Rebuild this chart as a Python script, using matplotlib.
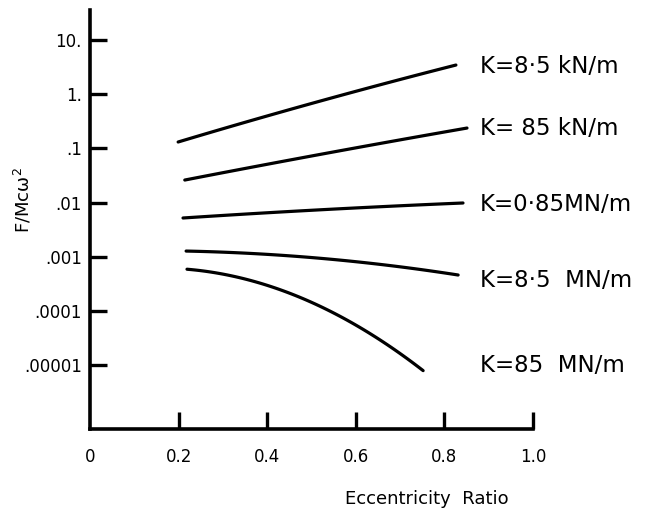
import numpy as np
import matplotlib
matplotlib.use('Agg')
import matplotlib.pyplot as plt
from matplotlib.ticker import FixedLocator, NullLocator

plt.rcParams['font.family'] = ['DejaVu Sans']

# curves: eccentricity ratio vs F/Mcw^2
ecc_1 = [0.199, 0.512, 0.826]
f_1 = [0.131, 0.717, 3.45]
ecc_2 = [0.214, 0.512, 0.851]
f_2 = [0.026, 0.0753, 0.237]
ecc_3 = [0.21, 0.512, 0.842]
f_3 = [0.00518, 0.00728, 0.0098]
ecc_4 = [0.217, 0.512, 0.831]
f_4 = [0.00127, 0.000946, 0.000459]
ecc_5 = [0.219, 0.361, 0.474, 0.571, 0.661, 0.752]
f_5 = [0.000618, 0.000327, 0.00018, 7.7e-5, 2.9e-5, 7.4e-6]

labels = ['K=8·5 kN/m', 'K= 85 kN/m', 'K=0·85MN/m', 'K=8·5  MN/m', 'K=85  MN/m']
label_y = [3.2, 0.237, 0.009, 3.7e-4, 1.0e-5]

x_ticks = [0, 0.2, 0.4, 0.6, 0.8, 1.0]
x_ticklabels = ['0', '0.2', '0.4', '0.6', '0.8', '1.0']
y_ticks = [10, 1, 0.1, 0.01, 0.001, 0.0001, 0.00001]
y_ticklabels = ['10.', '1.', '.1', '.01', '.001', '.0001', '.00001']

fig = plt.figure(figsize=(6.65, 5.16), dpi=100)
ax = fig.add_axes([0.1353, 0.1686, 0.8015 - 0.1353, 0.9806 - 0.1686])

for xs, ys in [(ecc_1, f_1), (ecc_2, f_2), (ecc_3, f_3), (ecc_4, f_4), (ecc_5, f_5)]:
    # smooth the few read points with a quadratic in log space
    c = np.polyfit(xs, np.log10(ys), 2)
    xx = np.linspace(xs[0], xs[-1], 60)
    ax.plot(xx, 10 ** np.polyval(c, xx), color='black', lw=2.3, solid_capstyle='round')

for lab, ly in zip(labels, label_y):
    ax.text(0.88, ly, lab, fontsize=16.5, va='center', ha='left', clip_on=False)

ax.set_yscale('log')
ax.set_xlim(0, 1.0)
ax.set_ylim(6.59e-7, 35.8)

ax.xaxis.set_major_locator(FixedLocator(x_ticks))
ax.set_xticklabels(x_ticklabels)
ax.yaxis.set_major_locator(FixedLocator(y_ticks))
ax.yaxis.set_minor_locator(NullLocator())
ax.set_yticklabels(y_ticklabels)

ax.tick_params(axis='both', direction='in', length=12, width=2.4, labelsize=12, pad=14)
ax.tick_params(axis='y', pad=6)
# no tick mark at the origin, only its label
ax.xaxis.get_major_ticks()[0].tick1line.set_visible(False)

for s in ['top', 'right']:
    ax.spines[s].set_visible(False)
for s in ['left', 'bottom']:
    ax.spines[s].set_linewidth(2.6)

ax.set_ylabel('F/Mcω$^2$', fontsize=13)
ax.yaxis.set_label_coords(-0.128, 0.547)
ax.set_xlabel('Eccentricity  Ratio', fontsize=13)
ax.xaxis.set_label_coords(0.76, -0.145)

fig.savefig('out.png', dpi=100)
